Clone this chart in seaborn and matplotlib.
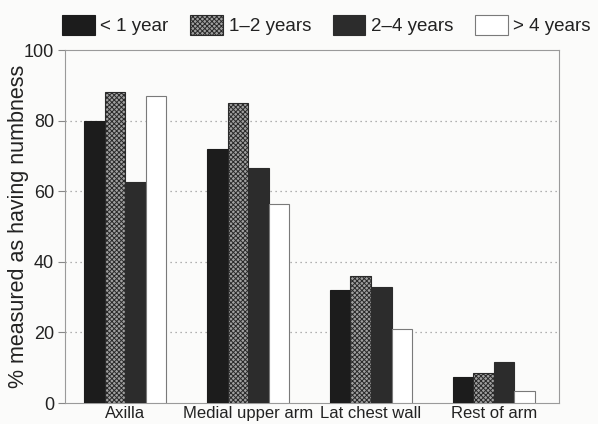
import pandas as pd
import matplotlib
matplotlib.use("Agg")
import matplotlib.pyplot as plt
import seaborn as sns

# values
sites = ["Axilla", "Medial upper arm", "Lat chest wall", "Rest of arm"]
durations = ["< 1 year", "1\u20132 years", "2\u20134 years", "> 4 years"]
lt_1 = [80, 72, 32, 7.5]
y_1_2 = [88, 85, 36, 8.5]
y_2_4 = [62.5, 66.5, 33, 11.5]
gt_4 = [87, 56.5, 21, 3.5]

df = pd.DataFrame({
    "site": sites * 4,
    "duration": [d for d in durations for _ in sites],
    "pct": lt_1 + y_1_2 + y_2_4 + gt_4,
})

sns.set_style("white")
plt.rcParams["font.family"] = ["Liberation Sans", "DejaVu Sans"]
plt.rcParams["hatch.linewidth"] = 0.7

fig = plt.figure(figsize=(5.98, 4.24), dpi=100, facecolor="#fbfbfa")
ax = fig.add_axes([0.1087, 0.0495, 0.826, 0.8325])
ax.set_facecolor("#fbfbfa")

sns.barplot(data=df, x="site", y="pct", hue="duration", order=sites,
            hue_order=durations, width=0.67, ax=ax, legend=False,
            saturation=1)

styles = [
    dict(facecolor="#1c1c1c", edgecolor="#1c1c1c", hatch=None),
    dict(facecolor="#a0a0a0", edgecolor="#2a2a2a", hatch="xxxxxxx"),
    dict(facecolor="#2c2c2c", edgecolor="#2c2c2c", hatch=None),
    dict(facecolor="#ffffff", edgecolor="#7a7a7a", hatch=None),
]
for cont, st in zip(ax.containers, styles):
    for bar in cont:
        bar.set_facecolor(st["facecolor"])
        bar.set_edgecolor(st["edgecolor"])
        bar.set_linewidth(0.8)
        if st["hatch"]:
            bar.set_hatch(st["hatch"])
        bar.set_zorder(3)

ax.set_ylim(0, 100)
ax.set_xlim(-0.49, 3.53)
ax.set_yticks([0, 20, 40, 60, 80, 100])
ax.tick_params(axis="y", labelsize=13, length=5, color="#888888",
               direction="out", left=True, pad=3, labelcolor="#222222")
ax.tick_params(axis="x", labelsize=12, length=0, pad=2.5, labelcolor="#222222")
for y in [20, 40, 60, 80]:
    ax.axhline(y, color="#999999", linestyle=(0, (1, 3)), linewidth=0.9, zorder=1)
for sp in ax.spines.values():
    sp.set_color("#9a9a9a")
    sp.set_linewidth(0.8)

ax.set_xlabel("")
ax.set_ylabel("% measured as having numbness", fontsize=15.5, color="#222222")
ax.yaxis.set_label_coords(-0.072, 0.5)

handles = [plt.Rectangle((0, 0), 1, 1, facecolor=st["facecolor"],
                         edgecolor=st["edgecolor"], hatch=st["hatch"],
                         linewidth=0.8) for st in styles]
fig.legend(handles, durations, loc="center", bbox_to_anchor=(0.546, 0.94),
           ncol=4, frameon=False, fontsize=13.5, handlelength=1.75,
           handleheight=1.2, handletextpad=0.3, columnspacing=1.15,
           labelcolor="#222222")

fig.savefig("out.png", dpi=100, facecolor=fig.get_facecolor())
